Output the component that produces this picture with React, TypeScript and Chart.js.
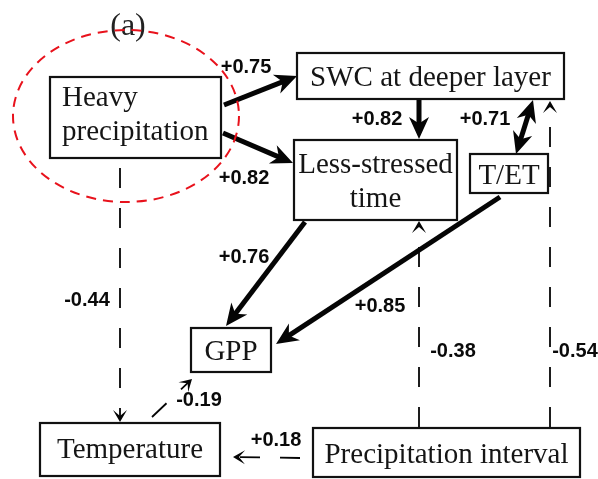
import React, { useEffect, useRef } from "react";
import { Chart, registerables } from "chart.js";

Chart.register(...registerables);

// ---- Nodes (diagram units: x 0..598, y 0..479 from top) ----
const nodeLabels: string[][] = [
  ["Heavy", "precipitation"],
  ["SWC at deeper layer"],
  ["Less-stressed", "time"],
  ["T/ET"],
  ["GPP"],
  ["Temperature"],
  ["Precipitation interval"],
];
const nodeX = [135.5, 430.5, 375.5, 509, 231, 130, 446.5];
const nodeY = [117.5, 76, 180, 173.5, 350, 449.5, 452.5];
const nodeW = [171, 267, 163, 78, 80, 180, 267];
const nodeH = [81, 46, 80, 39, 44, 53, 49];
const nodeAlign = ["left", "center", "center", "center", "center", "center", "center"];
const nodeTextShift = [-4.5, 0, 0, 0, 0, -1.5, 0];

// ---- Path coefficients ----
const edgeCoef = ["+0.75", "+0.82", "+0.82", "+0.71", "+0.76", "+0.85", "-0.44", "-0.19", "+0.18", "-0.38", "-0.54"];
const edgeFrom = ["Heavy precipitation", "Heavy precipitation", "SWC", "T/ET", "Less-stressed time", "T/ET", "Heavy precipitation", "Temperature", "Precipitation interval", "Precipitation interval", "Precipitation interval"];
const edgeTo = ["SWC", "Less-stressed time", "Less-stressed time", "SWC", "GPP", "GPP", "Temperature", "GPP", "Temperature", "Less-stressed time", "SWC"];
const edgeTwoWay = [false, false, false, true, false, false, false, false, false, false, false];
// tail / tip anchor points
const edgeX1 = [224, 223, 419, 516, 305, 500, 120, 152, 300, 419, 550];
const edgeY1 = [105, 133, 100, 154, 222, 197, 168, 417, 458, 427, 427];
const edgeX2 = [297, 293, 419, 533, 226, 276, 120, 192, 233, 419, 550];
const edgeY2 = [76, 163, 139, 100, 326, 344, 422, 379, 457, 221, 101];
// coefficient label anchors
const labelX = [246, 244, 377, 485, 244, 380, 87, 199, 276, 453, 575];
const labelY = [67, 178, 119, 119, 257, 306, 300, 400, 440, 351, 351];

const panelTitle = "(a)";
const panelTitleX = 128;
const panelTitleY = 27;
const highlightCX = 126;
const highlightCY = 116;
const highlightRX = 113;
const highlightRY = 86;

const isSolid = (c: string) => Math.abs(parseFloat(c)) >= 0.6;

const SOLID_HEAD = { len: 22, half: 10, notch: 0.7 };
const DASH_HEAD = { len: 12, half: 7, notch: 0.5 };

function buildEdgeDatasets() {
  return edgeCoef.map((c, i) => {
    const solid = isSolid(c);
    const h = solid ? SOLID_HEAD : DASH_HEAD;
    let x1 = edgeX1[i], y1 = edgeY1[i], x2 = edgeX2[i], y2 = edgeY2[i];
    const dx = x2 - x1, dy = y2 - y1;
    const L = Math.hypot(dx, dy);
    const ux = dx / L, uy = dy / L;
    const back = h.len * h.notch - 1;
    x2 -= ux * back;
    y2 -= uy * back;
    if (edgeTwoWay[i]) {
      x1 += ux * back;
      y1 += uy * back;
    }
    return {
      label: `${edgeFrom[i]} → ${edgeTo[i]} (${c})`,
      data: [{ x: x1, y: y1 }, { x: x2, y: y2 }],
      showLine: true,
      pointRadius: 0,
      borderColor: "#050505",
      borderWidth: solid ? 5 : 1.8,
      borderDash: solid ? [] : [20, 20],
      borderCapStyle: "butt" as const,
      tension: 0,
      fill: false,
    };
  });
}

function drawHead(ctx: CanvasRenderingContext2D, tx: number, ty: number, ux: number, uy: number, h: { len: number; half: number; notch: number }) {
  const bx = tx - ux * h.len, by = ty - uy * h.len;
  const px = -uy, py = ux;
  ctx.beginPath();
  ctx.moveTo(tx, ty);
  ctx.lineTo(bx + px * h.half, by + py * h.half);
  ctx.lineTo(tx - ux * h.len * h.notch, ty - uy * h.len * h.notch);
  ctx.lineTo(bx - px * h.half, by - py * h.half);
  ctx.closePath();
  ctx.fill();
}

const diagramPlugin = {
  id: "pathDiagram",
  afterDatasetsDraw(chart: any) {
    const ctx: CanvasRenderingContext2D = chart.ctx;
    const xs = chart.scales.x;
    const ys = chart.scales.y;
    const px = (v: number) => xs.getPixelForValue(v);
    const py = (v: number) => ys.getPixelForValue(v);
    ctx.save();

    // arrow heads
    ctx.fillStyle = "#050505";
    edgeCoef.forEach((c, i) => {
      const h = isSolid(c) ? SOLID_HEAD : DASH_HEAD;
      const x1 = px(edgeX1[i]), y1 = py(edgeY1[i]), x2 = px(edgeX2[i]), y2 = py(edgeY2[i]);
      const L = Math.hypot(x2 - x1, y2 - y1);
      const ux = (x2 - x1) / L, uy = (y2 - y1) / L;
      drawHead(ctx, x2, y2, ux, uy, h);
      if (edgeTwoWay[i]) drawHead(ctx, x1, y1, -ux, -uy, h);
    });

    // boxes
    const meta = chart.getDatasetMeta(0);
    nodeLabels.forEach((lines, i) => {
      const el = meta.data[i];
      const cx = el.x, cy = el.y;
      const w = px(nodeX[i] + nodeW[i] / 2) - px(nodeX[i] - nodeW[i] / 2);
      const hh = py(nodeY[i] + nodeH[i] / 2) - py(nodeY[i] - nodeH[i] / 2);
      ctx.fillStyle = "#ffffff";
      ctx.fillRect(cx - w / 2, cy - hh / 2, w, hh);
      ctx.strokeStyle = "#111111";
      ctx.lineWidth = 2.2;
      ctx.setLineDash([]);
      ctx.strokeRect(cx - w / 2, cy - hh / 2, w, hh);
      ctx.fillStyle = "#151515";
      ctx.font = '29px "Liberation Serif", "Times New Roman", serif';
      ctx.textBaseline = "alphabetic";
      const left = nodeAlign[i] === "left";
      ctx.textAlign = left ? "left" : "center";
      const tx = left ? cx - w / 2 + 12 : cx;
      lines.forEach((t, k) => {
        const base = cy + (k - (lines.length - 1) / 2) * 34 + 10 + nodeTextShift[i];
        ctx.fillText(t, tx, base);
      });
    });

    // coefficient labels
    ctx.fillStyle = "#0a0a0a";
    ctx.font = 'bold 20px "Liberation Sans", Arial, sans-serif';
    ctx.textAlign = "center";
    ctx.textBaseline = "middle";
    edgeCoef.forEach((c, i) => {
      ctx.fillText(c, px(labelX[i]), py(labelY[i]));
    });

    // panel title
    ctx.font = '32px "Liberation Serif", "Times New Roman", serif';
    ctx.fillStyle = "#222";
    ctx.fillText(panelTitle, px(panelTitleX), py(panelTitleY));

    // highlight ellipse
    const ecx = px(highlightCX), ecy = py(highlightCY);
    const erx = px(highlightCX + highlightRX) - ecx;
    const ery = py(highlightCY + highlightRY) - ecy;
    ctx.beginPath();
    ctx.ellipse(ecx, ecy, Math.abs(erx), Math.abs(ery), 0, 0, Math.PI * 2);
    ctx.strokeStyle = "#e8121c";
    ctx.lineWidth = 2;
    ctx.setLineDash([10, 7]);
    ctx.stroke();
    ctx.restore();
  },
};

export default function App() {
  const ref = useRef<HTMLCanvasElement | null>(null);
  useEffect(() => {
    document.body.style.margin = "0";
    const canvas = ref.current;
    if (!canvas) return;
    const nodesDataset = {
      label: "nodes",
      data: nodeX.map((x, i) => ({ x, y: nodeY[i] })),
      pointRadius: 0,
      showLine: false,
    };
    const chart = new Chart(canvas, {
      type: "scatter",
      data: { datasets: [nodesDataset as any, ...(buildEdgeDatasets() as any[])] },
      options: {
        responsive: false,
        animation: false,
        devicePixelRatio: 1,
        events: [],
        layout: { padding: 0 },
        scales: {
          x: { type: "linear", min: 0, max: 598, display: false },
          y: { type: "linear", min: 0, max: 479, reverse: true, display: false },
        },
        plugins: { legend: { display: false }, tooltip: { enabled: false } },
      },
      plugins: [diagramPlugin],
    });
    return () => chart.destroy();
  }, []);
  return (
    <div style={{ width: 598, height: 479, background: "#fff" }}>
      <canvas ref={ref} width={598} height={479} style={{ display: "block" }} />
    </div>
  );
}
